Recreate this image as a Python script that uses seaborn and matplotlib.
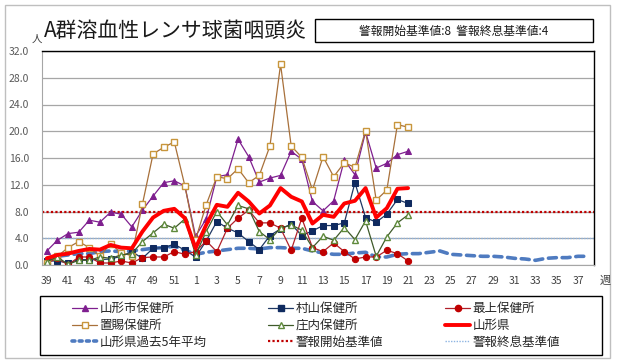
import numpy as np
import pandas as pd
import seaborn as sns
import matplotlib
matplotlib.use('Agg')
import matplotlib.pyplot as plt
from matplotlib.patches import Rectangle
from matplotlib.lines import Line2D

sns.set_theme(style='white')
plt.rcParams['font.family'] = ['Noto Sans CJK JP', 'DejaVu Sans']

# weeks 39..52 then 1..38
weeks = list(range(39, 53)) + list(range(1, 39))

# reported values per sentinel, weeks 39 .. 21
yamagata_shi = [2.1, 3.7, 4.7, 4.9, 6.7, 6.4, 7.9, 7.6, 5.7, 8.2, 10.3, 12.3, 12.6, 11.8,
                4.3, 6.9, 13.2, 13.5, 18.8, 16.2, 12.4, 13.0, 13.4, 17.0, 15.8, 9.5, 8.1,
                9.6, 15.7, 13.5, 19.9, 14.5, 15.2, 16.5, 17.0]
murayama = [0.6, 0.6, 0.3, 0.8, 0.8, 0.8, 0.9, 1.3, 2.0, 1.0, 2.5, 2.6, 3.1, 2.2,
            1.2, 3.6, 6.5, 5.5, 4.8, 3.5, 2.3, 4.4, 5.4, 6.1, 4.4, 5.1, 5.9,
            5.9, 6.3, 12.3, 7.1, 6.4, 7.6, 9.8, 9.2]
mogami = [0.3, 1.0, 0.0, 1.2, 1.2, 0.3, 0.3, 0.6, 0.3, 1.1, 1.2, 1.2, 2.0, 1.6,
          2.0, 3.6, 2.0, 5.5, 7.0, 8.2, 6.3, 6.3, 5.5, 2.2, 7.0, 2.6, 2.0,
          3.3, 2.0, 0.9, 1.2, 1.2, 2.2, 1.7, 0.6]
okitama = [0.3, 1.3, 2.6, 3.5, 2.6, 1.3, 3.2, 1.8, 1.4, 9.1, 16.6, 17.6, 18.4, 11.8,
           3.8, 9.0, 13.2, 12.9, 14.4, 12.3, 13.4, 17.8, 30.0, 17.8, 16.1, 11.2, 16.2,
           13.2, 15.3, 14.6, 20.1, 9.7, 11.2, 21.0, 20.6]
shonai = [0.5, 1.2, 0.1, 0.7, 0.7, 1.2, 1.0, 1.5, 1.7, 3.5, 4.8, 6.1, 5.5, 6.9,
          1.5, 5.0, 8.0, 6.0, 8.9, 8.4, 5.0, 3.8, 5.5, 6.0, 5.2, 2.6, 4.3,
          3.7, 5.6, 3.8, 6.6, 1.3, 4.2, 6.3, 7.5]
prefecture = [1.0, 1.5, 1.7, 2.1, 2.4, 2.3, 3.0, 2.6, 2.5, 5.0, 7.1, 8.1, 8.4, 7.0,
              2.5, 6.0, 9.0, 8.7, 10.8, 9.5, 7.7, 8.9, 11.5, 10.2, 9.5, 6.2, 7.5,
              7.2, 9.2, 9.6, 11.5, 7.1, 8.5, 11.4, 11.5]
# past 5 year average, weeks 39 .. 38
past5 = [1.0, 1.3, 1.5, 1.7, 1.7, 2.0, 2.1, 2.0, 2.1, 2.3, 2.5, 2.6, 2.8, 2.2,
         1.6, 1.9, 2.1, 2.3, 2.5, 2.5, 2.4, 2.6, 2.6, 2.5, 2.5, 2.1, 1.8,
         1.6, 1.6, 1.8, 1.9, 1.2, 1.2, 1.6, 1.7, 1.7, 1.9, 2.1, 1.6, 1.5,
         1.4, 1.3, 1.3, 1.2, 1.0, 0.9, 0.7, 1.0, 1.1, 1.1, 1.3, 1.3]

alarm_start = 8
alarm_end = 4

W, H = 620, 364
fig = plt.figure(figsize=(W / 100, H / 100), dpi=100)
fig.patch.set_facecolor('white')

def fx(px):
    return px / W

def fy(py):
    return 1 - py / H

ax = fig.add_axes([fx(41.5), fy(265), fx(594) - fx(41.5), fy(51) - fy(265)])

idx = np.arange(len(weeks))
n = len(yamagata_shi)

styles = [
    ('山形市保健所', yamagata_shi, dict(color='#7F1F8F', lw=0.9, marker='^', ms=5, mfc='#7F1F8F', mec='#7F1F8F')),
    ('村山保健所', murayama, dict(color='#1F3864', lw=0.9, marker='s', ms=4.5, mfc='#0F2A5F', mec='#0F2A5F')),
    ('最上保健所', mogami, dict(color='#B0202A', lw=0.9, marker='o', ms=4.5, mfc='#C00000', mec='#C00000')),
    ('置賜保健所', okitama, dict(color='#A8703A', lw=0.9, marker='s', ms=5, mfc='white', mec='#C8963C', mew=1)),
    ('庄内保健所', shonai, dict(color='#3F5A2A', lw=0.9, marker='^', ms=5, mfc='white', mec='#5F8A3C', mew=1)),
    ('山形県', prefecture, dict(color='#FF0000', lw=2.8)),
]

handles = {}
for name, vals, kw in styles:
    df = pd.DataFrame({'i': idx[:n], 'v': vals})
    sns.lineplot(data=df, x='i', y='v', ax=ax, legend=False, **kw)
    handles[name] = Line2D([], [], **kw)

df5 = pd.DataFrame({'i': idx, 'v': past5})
sns.lineplot(data=df5, x='i', y='v', ax=ax, legend=False, color='#4F7BC0', lw=2.6,
             linestyle=(0, (2.2, 1.6)), dash_capstyle='round', zorder=1)
handles['山形県過去5年平均'] = Line2D([], [], color='#4F7BC0', lw=2.6,
                                 linestyle=(0, (0.8, 1.2)), dash_capstyle='round')

ax.axhline(alarm_start, color='#C00000', lw=1.6, linestyle=(0, (1, 1)), zorder=1)
ax.axhline(alarm_end, color='#8DB4E2', lw=1.0, linestyle=(0, (1, 1)), zorder=1)
handles['警報開始基準値'] = Line2D([], [], color='#C00000', lw=1.6, linestyle=(0, (1, 1)))
handles['警報終息基準値'] = Line2D([], [], color='#8DB4E2', lw=1.0, linestyle=(0, (1, 1)))

ax.set_xlim(-0.5, len(weeks) - 0.5)
ax.set_ylim(0, 32)
ax.set_yticks(np.arange(0, 33, 4))
ax.set_yticklabels([f'{v:.1f}' for v in np.arange(0, 33, 4)])
ax.set_xticks(idx[::2])
ax.set_xticklabels([str(w) for w in weeks[::2]])
ax.tick_params(axis='y', length=0, pad=9, labelsize=7.5, labelcolor='#595959')
ax.tick_params(axis='x', length=0, pad=8, labelsize=7.5, labelcolor='#404040')
ax.set_xlabel('')
ax.set_ylabel('')
ax.grid(axis='y', color='#A6A6A6', lw=0.9)
ax.set_axisbelow(True)
for side in ['top', 'right']:
    ax.spines[side].set_color('black')
    ax.spines[side].set_linewidth(1.0)
for side in ['left', 'bottom']:
    ax.spines[side].set_color('#A6A6A6')
    ax.spines[side].set_linewidth(0.8)

# units
fig.text(fx(37), fy(39), '人', fontsize=7.5, color='#404040', ha='center', va='center')
fig.text(fx(605), fy(281), '週', fontsize=8, color='#404040', ha='center', va='center')

# title and threshold box
fig.text(fx(44), fy(31), 'A群溶血性レンサ球菌咽頭炎', fontsize=15, color='#1A1A1A',
         ha='left', va='center')
fig.patches.append(Rectangle((fx(315), fy(42)), fx(593) - fx(315), fy(19) - fy(42),
                             transform=fig.transFigure, fill=False, ec='black', lw=1))
fig.text(fx(454), fy(31), f'警報開始基準値:{alarm_start}  警報終息基準値:{alarm_end}',
         fontsize=8.5, color='#1A1A1A', ha='center', va='center')

# legend
order = ['山形市保健所', '置賜保健所', '山形県過去5年平均',
         '村山保健所', '庄内保健所', '警報開始基準値',
         '最上保健所', '山形県', '警報終息基準値']
fig.patches.append(Rectangle((fx(40), fy(355)), fx(602) - fx(40), fy(296) - fy(355),
                             transform=fig.transFigure, fill=False, ec='black', lw=1))
fig.legend([handles[k] for k in order], order, ncol=3, mode='expand',
           bbox_to_anchor=(fx(72), fy(352), fx(560) - fx(72), fy(299) - fy(352)),
           loc='center', frameon=False, fontsize=9, handlelength=2.0,
           handletextpad=0.2, labelspacing=0.3, borderaxespad=0, borderpad=0)

# outer border
fig.patches.append(Rectangle((fx(5), fy(358)), fx(610) - fx(5), fy(5) - fy(358),
                             transform=fig.transFigure, fill=False, ec='#BFBFBF', lw=1))

fig.savefig('out.png', dpi=100)
